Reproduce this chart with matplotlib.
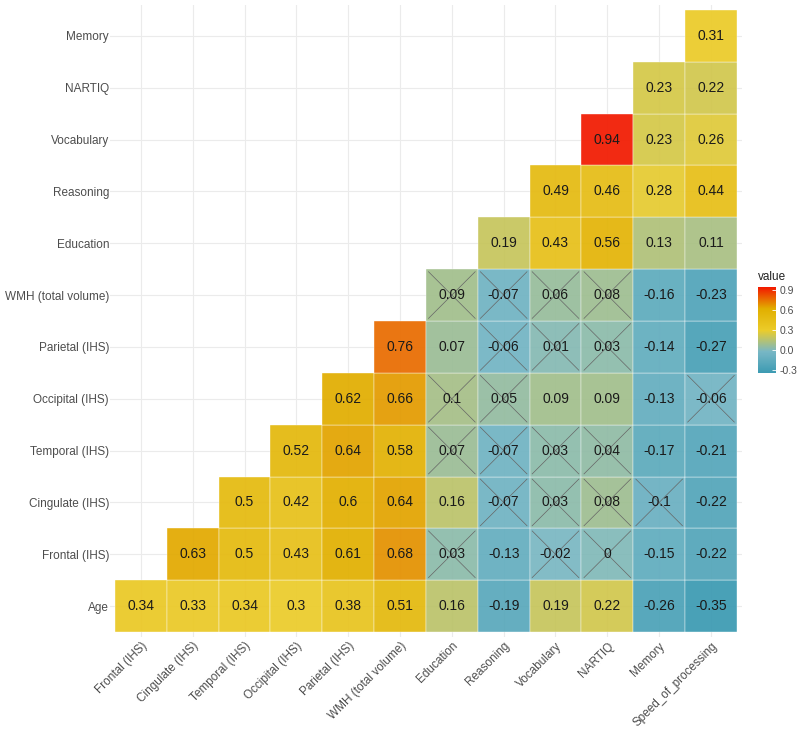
"""Lower-triangle correlation heatmap (ggcorrplot style) with Zissou1 colours."""

import matplotlib

matplotlib.use("Agg")
import matplotlib.pyplot as plt
from matplotlib.colors import LinearSegmentedColormap, Normalize
from matplotlib.cm import ScalarMappable

plt.rcParams["font.family"] = ["Liberation Sans", "DejaVu Sans"]

x_labels = ["Frontal (IHS)", "Cingulate (IHS)", "Temporal (IHS)", "Occipital (IHS)",
            "Parietal (IHS)", "WMH (total volume)", "Education", "Reasoning",
            "Vocabulary", "NARTIQ", "Memory", "Speed_of_processing"]
# rows from bottom to top
y_labels = ["Age", "Frontal (IHS)", "Cingulate (IHS)", "Temporal (IHS)", "Occipital (IHS)",
            "Parietal (IHS)", "WMH (total volume)", "Education", "Reasoning",
            "Vocabulary", "NARTIQ", "Memory"]

N = None
r_age = [0.34, 0.33, 0.34, 0.3, 0.38, 0.51, 0.16, -0.19, 0.19, 0.22, -0.26, -0.35]
r_frontal = [N, 0.63, 0.5, 0.43, 0.61, 0.68, 0.03, -0.13, -0.02, 0, -0.15, -0.22]
r_cingulate = [N, N, 0.5, 0.42, 0.6, 0.64, 0.16, -0.07, 0.03, 0.08, -0.1, -0.22]
r_temporal = [N, N, N, 0.52, 0.64, 0.58, 0.07, -0.07, 0.03, 0.04, -0.17, -0.21]
r_occipital = [N, N, N, N, 0.62, 0.66, 0.1, 0.05, 0.09, 0.09, -0.13, -0.06]
r_parietal = [N, N, N, N, N, 0.76, 0.07, -0.06, 0.01, 0.03, -0.14, -0.27]
r_wmh = [N, N, N, N, N, N, 0.09, -0.07, 0.06, 0.08, -0.16, -0.23]
r_education = [N, N, N, N, N, N, N, 0.19, 0.43, 0.56, 0.13, 0.11]
r_reasoning = [N, N, N, N, N, N, N, N, 0.49, 0.46, 0.28, 0.44]
r_vocabulary = [N, N, N, N, N, N, N, N, N, 0.94, 0.23, 0.26]
r_nartiq = [N, N, N, N, N, N, N, N, N, N, 0.23, 0.22]
r_memory = [N, N, N, N, N, N, N, N, N, N, N, 0.31]

# non-significant cells (row, column), crossed out
not_significant = [
    ("WMH (total volume)", "Education"), ("WMH (total volume)", "Reasoning"),
    ("WMH (total volume)", "Vocabulary"), ("WMH (total volume)", "NARTIQ"),
    ("Parietal (IHS)", "Reasoning"), ("Parietal (IHS)", "Vocabulary"),
    ("Parietal (IHS)", "NARTIQ"),
    ("Occipital (IHS)", "Education"), ("Occipital (IHS)", "Reasoning"),
    ("Occipital (IHS)", "Speed_of_processing"),
    ("Temporal (IHS)", "Education"), ("Temporal (IHS)", "Reasoning"),
    ("Temporal (IHS)", "Vocabulary"), ("Temporal (IHS)", "NARTIQ"),
    ("Cingulate (IHS)", "Reasoning"), ("Cingulate (IHS)", "Vocabulary"),
    ("Cingulate (IHS)", "NARTIQ"), ("Cingulate (IHS)", "Memory"),
    ("Frontal (IHS)", "Education"), ("Frontal (IHS)", "Vocabulary"),
    ("Frontal (IHS)", "NARTIQ"),
]

rows = [r_age, r_frontal, r_cingulate, r_temporal, r_occipital, r_parietal,
        r_wmh, r_education, r_reasoning, r_vocabulary, r_nartiq, r_memory]

zissou = ["#3B9AB2", "#78B7C5", "#EBCC2A", "#E1AF00", "#F21A00"]
cmap = LinearSegmentedColormap.from_list("zissou1", zissou)
vals = [v for r in rows for v in r if v is not None]
norm = Normalize(vmin=min(vals), vmax=max(vals))

fig = plt.figure(figsize=(8, 7.32), dpi=100)
ax = fig.add_axes([0.1372, 0.1295, 0.7904, 0.864])

grey = "#4d4d4d"
for i, row in enumerate(rows):
    for j, v in enumerate(row):
        if v is None:
            continue
        ax.add_patch(plt.Rectangle((j - 0.5, i - 0.5), 1, 1, facecolor=cmap(norm(v)),
                                   edgecolor="white", linewidth=0.3, alpha=0.93, zorder=2))
        ax.text(j, i, f"{v:g}", ha="center", va="center", fontsize=10,
                color="#1a1a1a", zorder=4)

for rname, cname in not_significant:
    i = y_labels.index(rname)
    j = x_labels.index(cname)
    d = 0.45
    ax.plot([j - d, j + d], [i - d, i + d], color="#666666", lw=0.5, zorder=3)
    ax.plot([j - d, j + d], [i + d, i - d], color="#666666", lw=0.5, zorder=3)

ax.set_xlim(-0.6, len(x_labels) - 0.4)
ax.set_ylim(-0.6, len(y_labels) - 0.4)
ax.set_xticks(range(len(x_labels)))
ax.set_xticklabels(x_labels, rotation=45, ha="right", va="top",
                   rotation_mode="anchor", fontsize=8.5, color=grey)
ax.set_yticks(range(len(y_labels)))
ax.set_yticklabels(y_labels, fontsize=8.5, color=grey)
ax.tick_params(axis="y", length=0, pad=0.5)
ax.tick_params(axis="x", length=0, pad=2)
ax.grid(color="#ebebeb", linewidth=0.8, zorder=0)
ax.set_axisbelow(True)
for s in ax.spines.values():
    s.set_visible(False)

cax = fig.add_axes([0.947, 0.490, 0.0225, 0.1175])
cb = fig.colorbar(ScalarMappable(norm=norm, cmap=cmap), cax=cax)
cb.set_ticks([-0.3, 0.0, 0.3, 0.6, 0.9])
cb.set_ticklabels(["-0.3", "0.0", "0.3", "0.6", "0.9"])
cb.outline.set_visible(False)
cax.tick_params(length=3, color="white", width=0.6, labelsize=7.5, labelcolor=grey,
                direction="in", pad=3)
cax.set_title("value", fontsize=8.5, color="#222222", loc="left", pad=5)

fig.savefig("out.png", dpi=100)
